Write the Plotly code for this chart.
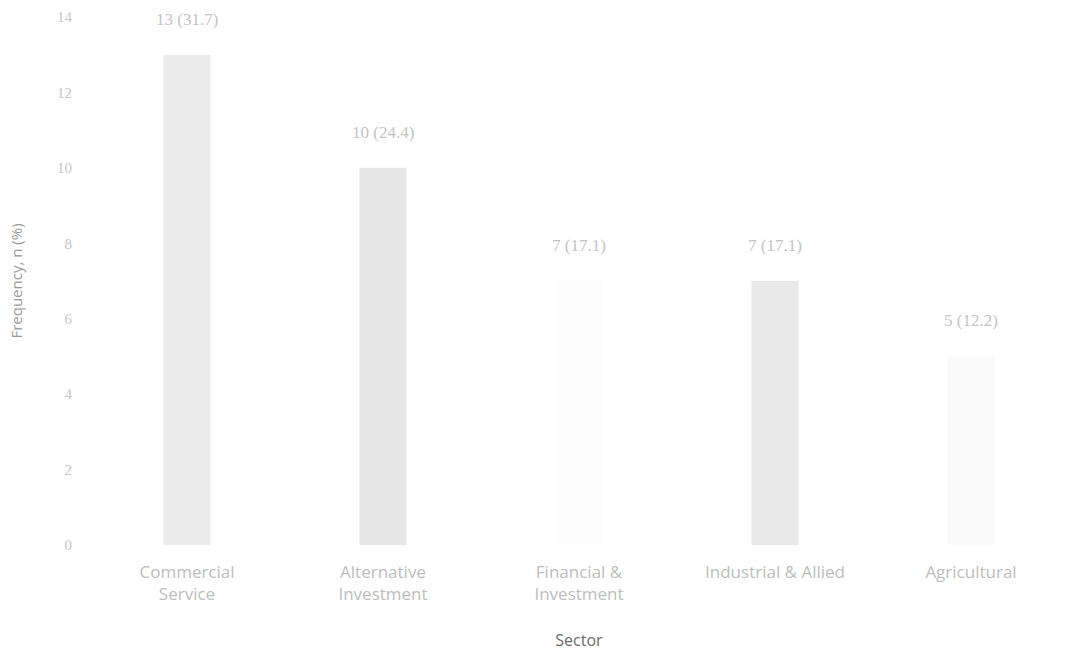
import plotly.graph_objects as go

# Sector frequencies with their percentage share
sectors = ["Commercial<br>Service", "Alternative<br>Investment", "Financial &<br>Investment",
           "Industrial & Allied", "Agricultural"]
counts = [13, 10, 7, 7, 5]
percents = [31.7, 24.4, 17.1, 17.1, 12.2]
bar_colors = ["#ebebeb", "#e6e6e6", "#fdfdfd", "#e8e8e8", "#fafafa"]
y_ticks = [0, 2, 4, 6, 8, 10, 12, 14]

labels = [f"{n} ({p})" for n, p in zip(counts, percents)]

fig = go.Figure()
fig.add_trace(go.Bar(
    x=sectors, y=counts,
    marker=dict(color=bar_colors, line=dict(width=0)),
    width=0.24,
    hoverinfo="skip",
))

for s, n, lab in zip(sectors, counts, labels):
    fig.add_annotation(
        x=s, y=n, text=lab, showarrow=False, yanchor="bottom", yshift=24,
        font=dict(family="Liberation Serif", size=17, color="#c4c4c4"),
    )

fig.update_layout(
    width=1071, height=662,
    margin=dict(l=89, r=2, t=17, b=117),
    paper_bgcolor="white", plot_bgcolor="white",
    showlegend=False,
    bargap=0.76,
    xaxis=dict(
        showgrid=False, showline=False, zeroline=False, ticks="",
        tickfont=dict(family="Open Sans", size=17, color="#bdbdbd"),
        ticklabelstandoff=15,
        title=dict(text="Sector", font=dict(family="Open Sans", size=16, color="#6a6a6a"), standoff=30),
    ),
    yaxis=dict(
        range=[0, 14], tickvals=y_ticks,
        showgrid=False, showline=False, zeroline=False, ticks="",
        tickfont=dict(family="Liberation Serif", size=15, color="#c6c6c6"),
        ticklabelstandoff=16,
        title=dict(text="Frequency, n (%)", font=dict(family="Open Sans", size=15, color="#9a9a9a"), standoff=30),
    ),
)

fig.write_html("out.html")
